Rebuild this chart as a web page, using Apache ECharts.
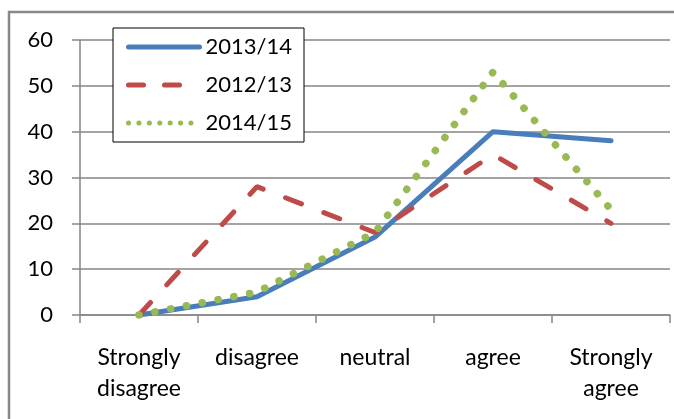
<!DOCTYPE html>
<html>
<head>
<meta charset="utf-8">
<script src="https://cdn.jsdelivr.net/npm/echarts@6/dist/echarts.min.js"></script>
<style>
html, body { margin: 0; padding: 0; background: #fff; }
#chart { width: 674px; height: 419px; }
</style>
</head>
<body>
<div id="chart"></div>
<script>
var categories = ['Strongly\ndisagree', 'disagree', 'neutral', 'agree', 'Strongly\nagree'];
var yTicks = [0, 10, 20, 30, 40, 50, 60];
var s2013 = [0, 4, 17, 40, 38];
var s2012 = [0, 28, 18, 35, 20];
var s2014 = [0, 5, 18, 53, 23];

var myChart = echarts.init(document.getElementById('chart'));
var font = 'Lato, "Open Sans", sans-serif';
var blue = '#4a7ebb', red = '#be4b48', green = '#98b954';
var option = {
    animation: false,
    textStyle: { fontFamily: font },
    graphic: [{
        type: 'rect',
        z: -1,
        shape: { x: 9, y: 12, width: 700, height: 450 },
        style: { fill: 'none', stroke: '#898989', lineWidth: 2.5 }
    }],
    grid: { left: 80, right: 4, top: 40, bottom: 104 },
    legend: {
        orient: 'vertical',
        left: 113,
        top: 28,
        padding: [8, 12, 8, 13],
        itemGap: 16,
        itemWidth: 71,
        itemHeight: 20,
        backgroundColor: '#fff',
        borderColor: '#000',
        borderWidth: 1,
        borderRadius: 0,
        itemStyle: { opacity: 0 },
        textStyle: { fontSize: 22, color: '#000', fontFamily: font, padding: [0, 0, 0, 1] },
        data: [
            { name: '2013/14', lineStyle: { width: 5, color: blue, cap: 'round' } },
            { name: '2012/13', lineStyle: { width: 5, color: red, type: [15, 21], cap: 'round' } },
            { name: '2014/15', lineStyle: { width: 5, color: green, type: [0.1, 10.3], cap: 'round' } }
        ]
    },
    xAxis: {
        type: 'category',
        data: categories,
        boundaryGap: true,
        axisLine: { lineStyle: { color: '#868686', width: 1.5 } },
        axisTick: { show: true, length: 8, lineStyle: { color: '#868686', width: 1.5 } },
        axisLabel: {
            color: '#000', fontSize: 23, lineHeight: 31, margin: 27,
            verticalAlign: 'top', interval: 0
        }
    },
    yAxis: {
        type: 'value',
        min: yTicks[0],
        max: yTicks[yTicks.length - 1],
        interval: 10,
        axisLine: { show: true, lineStyle: { color: '#868686', width: 1.5 } },
        axisTick: { show: true, inside: false, length: 8, lineStyle: { color: '#868686', width: 1.5 } },
        axisLabel: { color: '#000', fontSize: 22, margin: 27 },
        splitLine: { lineStyle: { color: '#868686', width: 1.5 } }
    },
    series: [{
        name: '2013/14',
        type: 'line',
        data: s2013,
        symbol: 'none',
        color: blue,
        lineStyle: { color: blue, width: 5, cap: 'round', join: 'round' }
    }, {
        name: '2012/13',
        type: 'line',
        data: s2012,
        symbol: 'none',
        color: red,
        lineStyle: { color: red, width: 5, type: [17, 24], cap: 'round' }
    }, {
        name: '2014/15',
        type: 'line',
        data: s2014,
        symbol: 'none',
        color: green,
        lineStyle: { color: green, width: 7.5, type: [0.1, 16], cap: 'round' }
    }]
};
myChart.setOption(option);
</script>
</body>
</html>
